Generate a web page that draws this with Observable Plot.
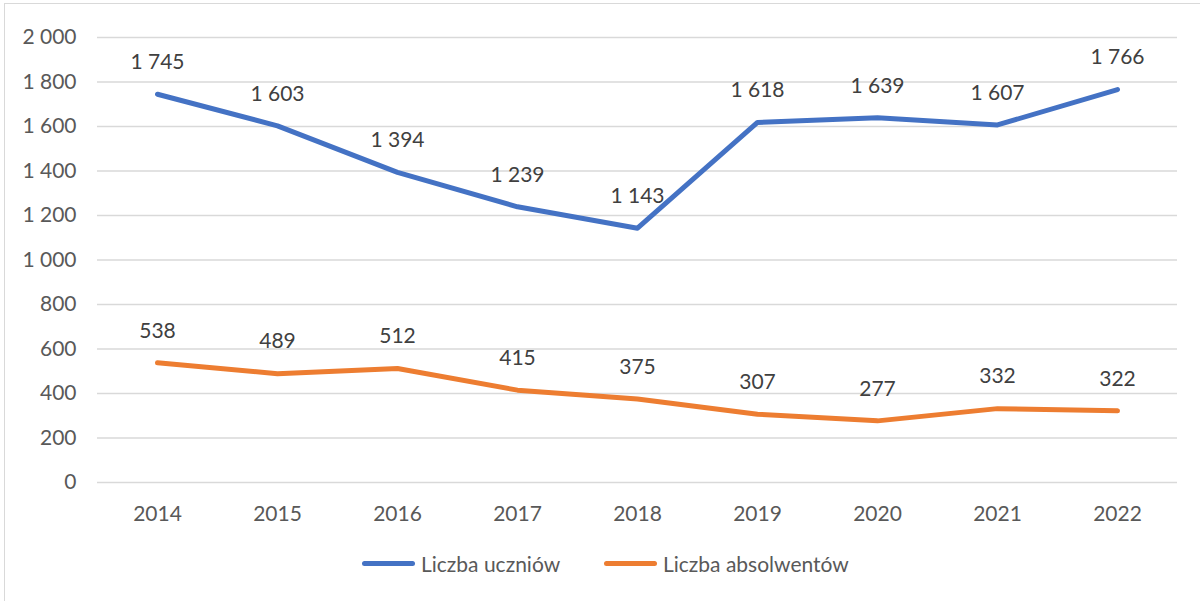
<!DOCTYPE html>
<html>
<head>
<meta charset="utf-8">
<script src="https://cdn.jsdelivr.net/npm/d3@7"></script>
<script src="https://cdn.jsdelivr.net/npm/@observablehq/plot@0.6"></script>
<style>
  html, body { margin: 0; padding: 0; background: #fff; }
  #wrap { position: relative; width: 1200px; height: 601px; overflow: hidden; font-family: Lato, "Noto Sans", sans-serif; }
  #frame { position: absolute; left: 4px; top: 3px; width: 1200px; height: 620px; border: 1px solid #d9d9d9; box-sizing: border-box; }
  #chart { position: absolute; left: 0; top: 0; }
  #legend { position: absolute; top: 551px; left: 0; width: 1200px; height: 30px; font-size: 21px; color: #595959; }
  .item { position: absolute; top: 0; display: flex; align-items: center; white-space: nowrap; }
  .sw { width: 53px; height: 5px; border-radius: 3px; margin-right: 6px; }
</style>
</head>
<body>
<div id="wrap">
  <div id="frame"></div>
  <div id="chart"></div>
  <div id="legend"></div>
</div>
<script>
const years = ["2014","2015","2016","2017","2018","2019","2020","2021","2022"];
const uczniowie = [1745, 1603, 1394, 1239, 1143, 1618, 1639, 1607, 1766];
const absolwenci = [538, 489, 512, 415, 375, 307, 277, 332, 322];
const seriesNames = ["Liczba uczniów", "Liczba absolwentów"];
const seriesColors = ["#4472C4", "#ED7D31"];
const yTicks = [0, 200, 400, 600, 800, 1000, 1200, 1400, 1600, 1800, 2000];

const fmt = v => d3.format(",")(v).replace(/,/g, " ");

const data = [];
years.forEach((y, i) => {
  data.push({year: y, value: uczniowie[i], series: seriesNames[0]});
  data.push({year: y, value: absolwenci[i], series: seriesNames[1]});
});

const plot = Plot.plot({
  width: 1200,
  height: 530,
  marginLeft: 97,
  marginRight: 23,
  marginTop: 37,
  marginBottom: 48,
  style: { fontFamily: "Lato, 'Noto Sans', sans-serif", fontSize: "21px", color: "#595959", background: "transparent" },
  x: { type: "point", domain: years, padding: 0.5, label: null },
  y: { domain: [0, 2000], label: null },
  color: { domain: seriesNames, range: seriesColors },
  marks: [
    Plot.ruleY(yTicks, { stroke: "#d9d9d9", strokeWidth: 1.5, strokeOpacity: 1 }),
    Plot.axisY({ ticks: yTicks, tickSize: 0, tickPadding: 21, tickFormat: fmt, fill: "#595959", fontSize: 21 }),
    Plot.axisX({ tickSize: 0, tickPadding: 24, fill: "#595959", fontSize: 21 }),
    Plot.line(data, { x: "year", y: "value", z: "series", stroke: "series", strokeWidth: 5, strokeLinecap: "round", strokeLinejoin: "round" }),
    Plot.text(data, { x: "year", y: "value", text: d => fmt(d.value), dy: -32, fill: "#404040", fontSize: 21 })
  ]
});
document.getElementById("chart").appendChild(plot);

const legendLeft = [362, 604];
const legend = document.getElementById("legend");
seriesNames.forEach((n, i) => {
  const it = document.createElement("div");
  it.className = "item";
  it.style.left = legendLeft[i] + "px";
  const sw = document.createElement("div");
  sw.className = "sw";
  sw.style.background = seriesColors[i];
  const t = document.createElement("span");
  t.textContent = n;
  it.appendChild(sw); it.appendChild(t);
  legend.appendChild(it);
});
</script>
</body>
</html>
